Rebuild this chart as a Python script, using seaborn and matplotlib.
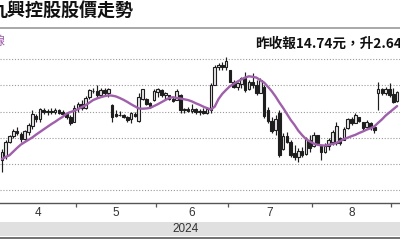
import numpy as np
import pandas as pd
import matplotlib
matplotlib.use("Agg")
import matplotlib.pyplot as plt
from matplotlib.patches import Rectangle
from matplotlib.lines import Line2D
import seaborn as sns

title = "九興控股股價走勢"
legend_label = "10天線"
last_text = "昨收報14.74元，升2.64%"
year_label = "2024"
month_labels = ["4", "5", "6", "7", "8"]
month_days = [20, 21, 19, 22, 21]
grid_levels = [11, 12, 13, 14, 15, 16]

opens = [12.15, 12.30, 12.85, 13.05, 13.25, 13.15, 12.95, 13.20, 13.45, 13.85,
         13.70, 14.05, 13.98, 14.02, 13.97, 14.05, 13.98, 13.92, 13.80, 13.62,
         14.12, 14.28, 14.15, 14.55, 14.80, 14.80, 14.65, 14.82, 14.72, 14.25,
         13.90, 13.88, 13.86, 13.80, 13.70, 13.90, 13.65, 14.50, 14.50, 14.32,
         14.45, 14.75, 14.82, 14.62, 14.65, 14.50, 14.45, 14.62, 14.05, 14.08,
         14.02, 14.10, 13.98, 14.02, 13.95, 14.05, 15.02, 15.70, 15.78, 15.70,
         15.58, 15.15, 14.95, 15.05, 15.28, 14.85, 15.15, 15.00, 14.72, 14.95,
         14.05, 13.65, 13.30, 13.95, 12.55, 13.05, 12.85, 12.40, 12.25, 12.50,
         12.38, 12.90, 12.70, 13.10, 12.72, 12.45, 12.70, 12.85, 12.80, 13.00,
         12.90, 13.38, 13.70, 13.55, 13.80, 13.60, 13.40, 13.58, 13.40, 14.70,
         14.85, 14.70, 14.88, 14.68, 14.40]
highs = [12.55, 12.90, 13.12, 13.33, 13.40, 13.20, 13.30, 13.55, 14.05, 13.92,
         14.15, 14.15, 14.08, 14.12, 14.12, 14.10, 14.06, 14.00, 13.88, 14.25,
         14.37, 14.45, 14.60, 14.88, 14.92, 15.02, 14.90, 14.90, 14.92, 14.30,
         14.05, 14.02, 13.92, 13.85, 14.00, 13.98, 14.70, 14.88, 14.52, 14.35,
         14.88, 14.90, 14.85, 14.75, 14.65, 14.55, 14.85, 14.68, 14.15, 14.18,
         14.30, 14.15, 14.10, 14.12, 14.18, 15.10, 15.78, 15.85, 15.90, 16.08,
         15.60, 15.21, 15.13, 15.32, 15.51, 15.21, 15.48, 15.21, 15.28, 15.02,
         14.18, 13.79, 13.87, 14.06, 13.18, 13.22, 12.91, 12.72, 12.60, 12.64,
         13.03, 13.10, 13.22, 13.10, 12.72, 12.80, 12.99, 13.30, 13.60, 13.03,
         13.41, 13.75, 13.79, 13.95, 13.80, 13.60, 13.68, 13.60, 13.49, 15.12,
         14.90, 14.95, 15.10, 14.92, 14.80]
lows = [11.70, 12.20, 12.80, 13.00, 13.10, 12.85, 12.90, 13.10, 13.35, 13.60,
        13.60, 13.92, 13.88, 13.92, 13.90, 13.92, 13.87, 13.70, 13.50, 13.60,
        14.00, 14.05, 14.10, 14.50, 14.70, 14.52, 14.60, 14.62, 14.55, 13.62,
        13.80, 13.82, 13.75, 13.62, 13.55, 13.80, 13.60, 14.44, 14.25, 14.15,
        14.40, 14.55, 14.55, 14.50, 14.44, 14.35, 14.45, 13.95, 13.95, 13.98,
        13.95, 13.92, 13.88, 13.90, 13.92, 13.95, 15.00, 15.58, 15.60, 15.60,
        15.13, 14.90, 14.83, 14.90, 14.75, 14.83, 14.90, 14.63, 14.70, 13.75,
        13.56, 13.18, 13.10, 12.26, 12.53, 12.80, 12.26, 12.15, 12.07, 12.26,
        12.34, 12.45, 12.64, 12.72, 12.15, 12.40, 12.53, 12.72, 12.72, 12.72,
        12.90, 13.35, 13.49, 13.55, 13.60, 13.30, 13.37, 13.30, 13.18, 14.06,
        14.63, 14.63, 14.55, 14.32, 14.38]
closes = [12.45, 12.85, 13.05, 13.25, 13.18, 12.95, 13.25, 13.48, 13.90, 13.70,
          14.08, 14.00, 14.04, 13.97, 14.06, 13.96, 13.92, 13.80, 13.58, 14.15,
          14.30, 14.12, 14.52, 14.82, 14.78, 14.62, 14.82, 14.72, 14.88, 13.78,
          13.85, 13.86, 13.80, 13.68, 13.95, 13.85, 14.55, 14.85, 14.30, 14.20,
          14.80, 14.85, 14.62, 14.70, 14.50, 14.42, 14.78, 14.05, 14.08, 14.02,
          14.10, 13.98, 14.02, 13.95, 14.10, 15.00, 15.70, 15.80, 15.72, 15.92,
          15.15, 14.95, 15.08, 15.28, 14.82, 15.15, 15.00, 14.70, 15.20, 13.85,
          13.65, 13.25, 13.70, 12.35, 13.05, 12.85, 12.35, 12.25, 12.50, 12.35,
          12.95, 12.60, 13.10, 12.78, 12.45, 12.70, 12.92, 13.20, 13.45, 12.80,
          13.35, 13.70, 13.55, 13.88, 13.65, 13.38, 13.60, 13.40, 13.30, 14.85,
          14.70, 14.88, 14.65, 14.36, 14.74]
ma10 = [12.19, 12.26, 12.33, 12.47, 12.61, 12.74, 12.83, 12.92, 13.01, 13.12,
        13.22, 13.32, 13.42, 13.52, 13.61, 13.71, 13.80, 13.92, 13.98, 14.03,
        14.09, 14.17, 14.24, 14.34, 14.44, 14.50, 14.55, 14.59, 14.62, 14.61,
        14.58, 14.52, 14.45, 14.37, 14.28, 14.20, 14.12, 14.11, 14.12, 14.14,
        14.21, 14.28, 14.36, 14.44, 14.52, 14.55, 14.52, 14.50, 14.47, 14.44,
        14.39, 14.32, 14.26, 14.19, 14.13, 14.08, 14.19, 14.48, 14.68, 14.83,
        14.97, 15.06, 15.15, 15.23, 15.30, 15.35, 15.33, 15.30, 15.20, 15.11,
        14.95, 14.78, 14.58, 14.35, 14.14, 13.91, 13.68, 13.49, 13.27, 13.10,
        12.95, 12.86, 12.78, 12.73, 12.71, 12.70, 12.73, 12.76, 12.80, 12.87,
        12.95, 13.00, 13.06, 13.11, 13.18, 13.24, 13.31, 13.36, 13.43, 13.57,
        13.70, 13.85, 13.97, 14.09, 14.21]

# ---------------------------------------------------------------- styling
sns.set_theme(style="white")
plt.rcParams['font.family'] = ['Noto Sans CJK TC', 'DejaVu Sans']

W, H = 400, 240
fig = plt.figure(figsize=(W / 100, H / 100), dpi=100)
fig.patch.set_facecolor("white")

def fy(px):
    return 1 - px / H

ax_top, ax_bot = 50, 203
ax = fig.add_axes([0, fy(ax_bot), 1, (ax_bot - ax_top) / H])
ax.set_facecolor("white")

n = len(closes)
idx = np.arange(n)
df = pd.DataFrame({"day": idx, "open": opens, "high": highs, "low": lows,
                   "close": closes, "ma": ma10})

ink = "#1e1e1e"
up = df["close"] >= df["open"]
ax.vlines(df["day"], df["low"], df["high"], color=ink, lw=0.85, zorder=2)
body_bottom = np.minimum(df["open"], df["close"])
body_h = np.maximum((df["close"] - df["open"]).abs(), 0.025)
faces = np.where(up, "#e8e8e8", ink)
ax.bar(df["day"], body_h, bottom=body_bottom, width=0.7, color=faces,
       edgecolor=ink, linewidth=0.8, zorder=3)

sns.lineplot(data=df, x="day", y="ma", ax=ax, color="#a05fab", lw=1.7,
             zorder=4, legend=False)

# y range and grid
ax.set_ylim(10.503, 16.356)
ax.set_xlim(-0.5, 104.76)
ax.set_yticks(grid_levels)
ax.yaxis.grid(True, linestyle=(0, (1, 1.6)), color="#9a9a9a", lw=0.8)
ax.xaxis.grid(False)
ax.tick_params(axis="y", length=0, labelleft=False)
ax.set_xlabel("")
ax.set_ylabel("")
for s in ["top", "left", "right"]:
    ax.spines[s].set_visible(False)
ax.spines["bottom"].set_color("#555555")
ax.spines["bottom"].set_linewidth(1.0)

# month ticks
ends = np.cumsum(month_days)
starts = ends - np.array(month_days)
bounds = ends - 0.5
centers = (starts + ends - 1) / 2
ax.set_xticks(bounds)
ax.set_xticklabels([])
ax.tick_params(axis="x", which="major", direction="out", length=3,
               width=0.9, color="#555555", bottom=True)
ax.set_xticks(centers, minor=True)
ax.set_xticklabels(month_labels, minor=True, fontsize=8.5, color="#333333",
                   family=["Liberation Sans", "DejaVu Sans"])
ax.tick_params(axis="x", which="minor", length=0, pad=3)

# header texts
fig.text(-10 / W, fy(11), title, ha="left", va="center", fontsize=13,
         fontweight="heavy", color="#111111")
fig.add_artist(Line2D([0, 1], [fy(28), fy(28)], color="#9a9a9a", lw=1.2))
fig.text(6 / W, fy(42), legend_label, ha="right", va="center", fontsize=9,
         color="#a05fab")
fig.text(255 / W, fy(44), last_text, ha="left", va="center", fontsize=9.8,
         fontweight="bold", color="#111111")

# year band
fig.add_artist(Rectangle((0, fy(236)), 1, (236 - 222) / H,
                         transform=fig.transFigure, color="#e0e0e0", lw=0))
fig.add_artist(Line2D([0, 1], [fy(238), fy(238)], color="#666666", lw=1.3))
fig.text(186 / W, fy(229), year_label, ha="center", va="center",
         fontsize=8.5, color="#333333", family=["Liberation Sans", "DejaVu Sans"])

fig.savefig("out.png", dpi=100, facecolor="white")
